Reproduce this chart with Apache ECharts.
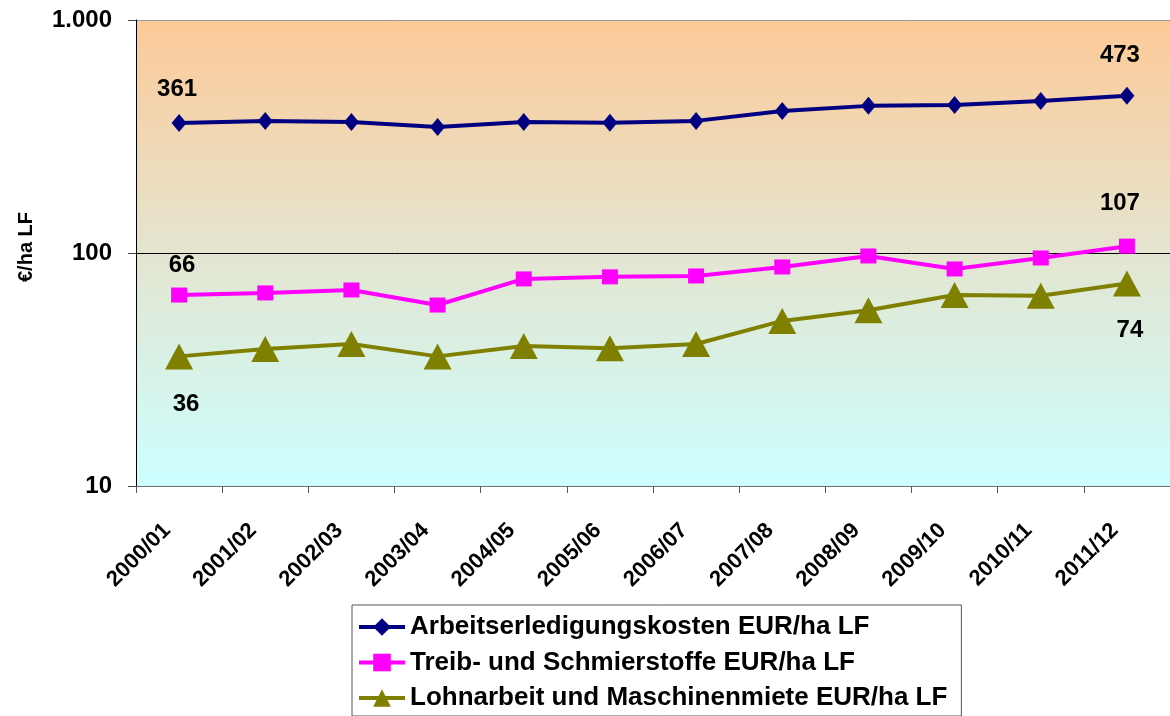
<!DOCTYPE html>
<html>
<head>
<meta charset="utf-8">
<title>Arbeitserledigungskosten</title>
<script src="https://cdn.jsdelivr.net/npm/echarts@6/dist/echarts.min.js"></script>
<style>
  html, body { margin: 0; padding: 0; background: #fff; }
  #myChart { width: 1170px; height: 716px; }
</style>
</head>
<body>
<div id="myChart"></div>
<script>
// Wirtschaftsjahre
var years = ["2000/01", "2001/02", "2002/03", "2003/04", "2004/05", "2005/06",
  "2006/07", "2007/08", "2008/09", "2009/10", "2010/11", "2011/12"];

// Werte in EUR/ha LF
var arbeit = [361, 369, 365, 347, 365, 362, 369, 407, 428, 432, 449, 473];
var treib = [66, 67.4, 69.4, 59.8, 77.4, 79, 79.7, 87.1, 97.1, 85.4, 95.2, 107];
var lohn = [36, 38.7, 40.7, 36, 39.9, 39, 40.7, 51.1, 56.8, 66, 65.5, 74];

var yTicks = [10, 100, 1000];
var yTickText = { 10: "10", 100: "100", 1000: "1.000" };

var fontFam = "Liberation Sans, Arial, sans-serif";

// nur erster und letzter Punkt bekommen eine Beschriftung
function withEndLabels(vals, firstOffset, lastOffset) {
  return vals.map(function (v, i) {
    if (i === 0) return { value: v, label: { show: true, offset: firstOffset } };
    if (i === vals.length - 1) return { value: v, label: { show: true, offset: lastOffset } };
    return v;
  });
}

var labelStyle = {
  show: false,
  position: "inside",
  color: "#000",
  fontFamily: fontFam,
  fontWeight: "bold",
  fontSize: 24,
  formatter: function (p) { return Math.round(p.value); }
};

var mycharts = echarts.init(document.getElementById("myChart"));
var option = {
  animation: false,
  textStyle: { fontFamily: fontFam },
  grid: {
    left: 136,
    right: 0,
    top: 20,
    bottom: 230,
    show: true,
    borderWidth: 0,
    backgroundColor: new echarts.graphic.LinearGradient(0, 0, 0, 1, [
      { offset: 0, color: "#FDCA98" },
      { offset: 0.5, color: "#E4E5D0" },
      { offset: 1, color: "#CCFFFF" }
    ])
  },
  legend: {
    orient: "vertical",
    left: 352,
    top: 605,
    padding: [8, 14, 4, 5],
    itemWidth: 46,
    itemHeight: 22,
    itemGap: 7.5,
    borderColor: "#555",
    borderWidth: 1,
    backgroundColor: "#fff",
    lineStyle: { width: 4 },
    textStyle: {
      color: "#000",
      fontFamily: fontFam,
      fontWeight: "bold",
      fontSize: 26,
      lineHeight: 28
    },
    data: ["Arbeitserledigungskosten EUR/ha LF", "Treib- und Schmierstoffe EUR/ha LF",
      "Lohnarbeit und Maschinenmiete EUR/ha LF"]
  },
  xAxis: {
    type: "category",
    data: years,
    boundaryGap: true,
    axisLine: { lineStyle: { color: "#707070", width: 1 } },
    axisTick: { show: true, interval: 0, length: 7, lineStyle: { color: "#555" } },
    axisLabel: {
      interval: 0,
      rotate: 45,
      margin: 29,
      padding: [0, 17, 0, 0],
      color: "#000",
      fontFamily: fontFam,
      fontWeight: "bold",
      fontSize: 22
    },
    splitLine: { show: false }
  },
  yAxis: {
    type: "log",
    logBase: 10,
    min: yTicks[0],
    max: yTicks[yTicks.length - 1],
    name: "€/ha LF",
    nameLocation: "middle",
    nameRotate: 90,
    nameGap: 100,
    nameTextStyle: {
      color: "#000", fontFamily: fontFam, fontWeight: "bold", fontSize: 20,
      padding: [0, 0, 0, 12]
    },
    axisLine: { show: true, lineStyle: { color: "#000", width: 1 } },
    axisTick: { show: true, length: 8, lineStyle: { color: "#444" } },
    axisLabel: {
      margin: 24,
      color: "#000",
      fontFamily: fontFam,
      fontWeight: "bold",
      fontSize: 24,
      formatter: function (v) { return yTickText[Math.round(v)] || v; }
    },
    splitLine: { show: true, lineStyle: { color: ["#888", "#000", "#999"], width: 1 } }
  },
  series: [
    {
      name: "Arbeitserledigungskosten EUR/ha LF",
      type: "line",
      data: withEndLabels(arbeit, [-2, -34], [-7, -40]),
      symbol: "diamond",
      symbolSize: [15, 18],
      lineStyle: { color: "#000080", width: 4 },
      itemStyle: { color: "#000080" },
      label: labelStyle,
      z: 3
    },
    {
      name: "Treib- und Schmierstoffe EUR/ha LF",
      type: "line",
      data: withEndLabels(treib, [3, -30], [-7, -43]),
      symbol: "rect",
      symbolSize: [16, 15],
      lineStyle: { color: "#FF00FF", width: 4 },
      itemStyle: { color: "#FF00FF" },
      label: labelStyle,
      z: 3
    },
    {
      name: "Lohnarbeit und Maschinenmiete EUR/ha LF",
      type: "line",
      data: withEndLabels(lohn, [7, 48], [3, 47]),
      symbol: "triangle",
      symbolSize: [28, 26],
      lineStyle: { color: "#808000", width: 4 },
      itemStyle: { color: "#808000" },
      label: labelStyle,
      z: 3
    }
  ]
};
mycharts.setOption(option);
</script>
</body>
</html>
